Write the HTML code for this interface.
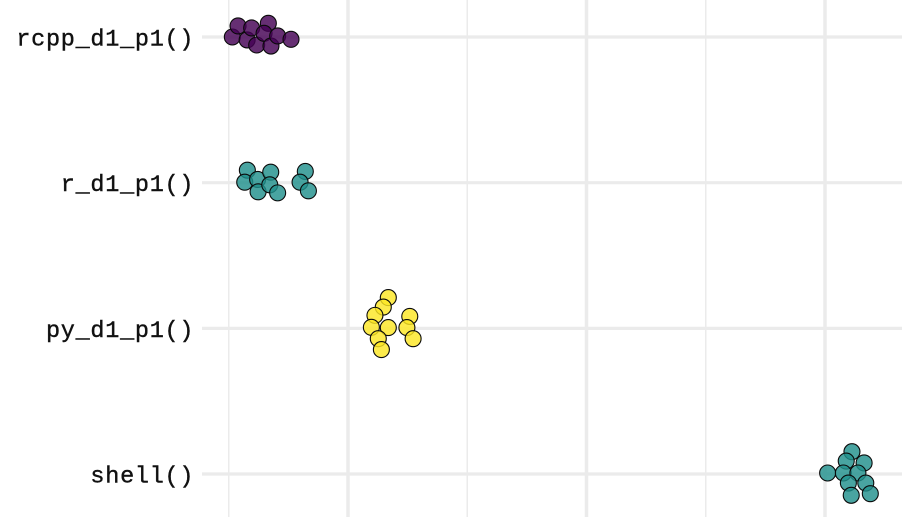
<!DOCTYPE html>
<html>
<head>
<meta charset="utf-8">
<style>
html,body{margin:0;padding:0;background:#fff;width:918px;height:517px;overflow:hidden}
svg{display:block}
.label{font-family:"Liberation Mono",monospace;font-size:23.5px;fill:#111;letter-spacing:.72px;stroke:#111;stroke-width:.4px}
</style>
</head>
<body>
<svg id="chart" width="918" height="517" viewBox="0 0 918 517"></svg>
<script>
const categories = ["rcpp_d1_p1()", "r_d1_p1()", "py_d1_p1()", "shell()"];
const seriesColors = ["#440154", "#21908C", "#FDE725", "#21908C"];
const majorTicks = [10, 20, 30];
const minorTicks = [5, 15, 25];
const rcppValues = [5.15, 5.39, 5.77, 5.96, 6.17, 6.66, 6.48, 6.77, 7.05, 7.61];
const rcppJitter = [0, -0.076, 0.02, -0.062, 0.055, -0.094, -0.025, 0.062, -0.007, 0.016];
const rValues = [5.78, 5.67, 6.21, 6.23, 6.76, 6.72, 7.05, 8.21, 7.99, 8.34];
const rJitter = [-0.086, -0.003, -0.022, 0.063, -0.072, 0.015, 0.07, -0.077, -0.003, 0.056];
const pyValues = [11.69, 11.48, 11.13, 10.98, 11.69, 11.27, 11.40, 12.59, 12.47, 12.73];
const pyJitter = [-0.211, -0.146, -0.089, -0.007, -0.005, 0.071, 0.146, -0.082, -0.005, 0.071];
const shellValues = [31.13, 30.89, 31.64, 30.11, 30.77, 31.38, 30.98, 31.71, 31.10, 31.90];
const shellJitter = [-0.153, -0.089, -0.076, -0.007, -0.007, -0.007, 0.062, 0.062, 0.146, 0.135];

const allValues = [rcppValues, rValues, pyValues, shellValues];
const allJitter = [rcppJitter, rJitter, pyJitter, shellJitter];

const NS = "http://www.w3.org/2000/svg";
const svg = document.getElementById("chart");
const xScale = v => 348 + (v - 10) * 23.85;
const yScale = r => 37 + r * 145.67;

function make(tag, attrs) {
  const el = document.createElementNS(NS, tag);
  for (const k in attrs) el.setAttribute(k, attrs[k]);
  svg.appendChild(el);
  return el;
}

minorTicks.forEach(t => {
  const el = make("line", {x1: xScale(t), x2: xScale(t), y1: 0, y2: 517, stroke: "#ebebeb", "stroke-width": 1.5});
  
  
});
majorTicks.forEach(t => {
  const el = make("line", {x1: xScale(t), x2: xScale(t), y1: 0, y2: 517, stroke: "#ebebeb", "stroke-width": 3.5});
  
  
});
categories.forEach((c, i) => {
  const el = make("line", {x1: 202, x2: 902, y1: yScale(i), y2: yScale(i), stroke: "#ebebeb", "stroke-width": 3.2});
  
  
});
categories.forEach((c, i) => {
  const el = make("text", {x: 194.2, y: yScale(i) + 8.5, "text-anchor": "end", class: "label"});
  el.textContent = c;
  
  
});
categories.forEach((c, i) => {
  allValues[i].forEach((v, j) => {
    const el = make("circle", {
      cx: xScale(v),
      cy: yScale(i + allJitter[i][j]),
      r: 8,
      fill: seriesColors[i],
      "fill-opacity": 0.82,
      stroke: "#0a0a0a",
      "stroke-width": 1.1
    });
    
    
  });
});
</script>
</body>
</html>
